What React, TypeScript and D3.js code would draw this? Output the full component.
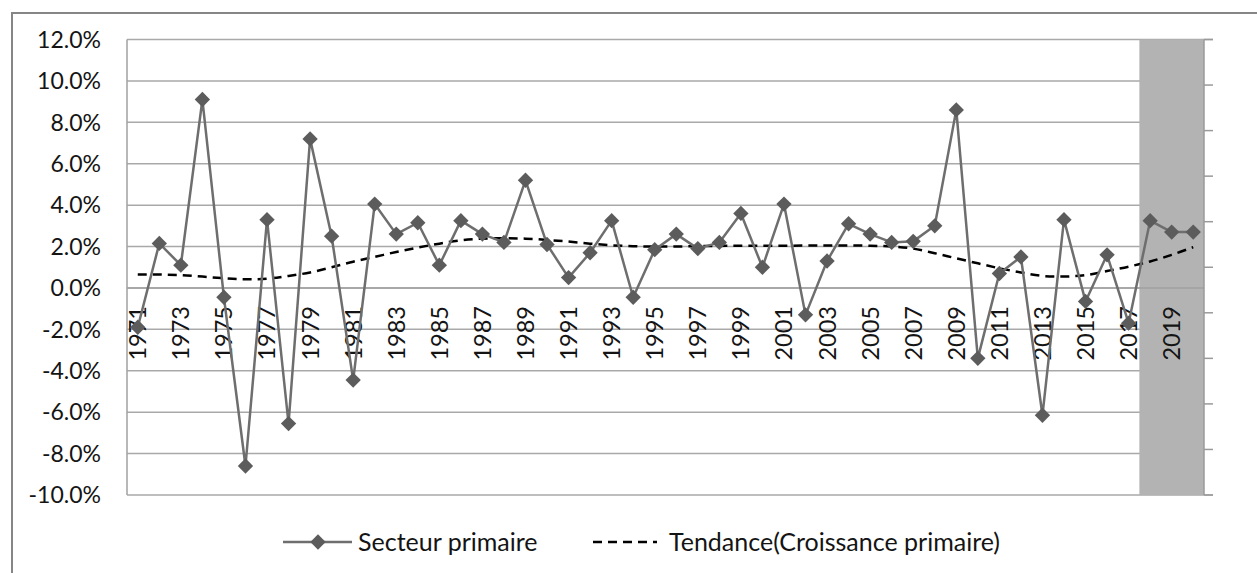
import React, { useEffect, useRef } from "react";
import * as d3 from "d3";

const years: number[] = [
  1971, 1972, 1973, 1974, 1975, 1976, 1977, 1978, 1979, 1980,
  1981, 1982, 1983, 1984, 1985, 1986, 1987, 1988, 1989, 1990,
  1991, 1992, 1993, 1994, 1995, 1996, 1997, 1998, 1999, 2000,
  2001, 2002, 2003, 2004, 2005, 2006, 2007, 2008, 2009, 2010,
  2011, 2012, 2013, 2014, 2015, 2016, 2017, 2018, 2019, 2020,
];

// Secteur primaire growth (%)
const primaire: number[] = [
  -1.9, 2.15, 1.1, 9.1, -0.45, -8.6, 3.3, -6.55, 7.2, 2.5,
  -4.45, 4.05, 2.6, 3.15, 1.1, 3.25, 2.6, 2.2, 5.2, 2.1,
  0.5, 1.7, 3.25, -0.45, 1.85, 2.6, 1.9, 2.2, 3.6, 1.0,
  4.05, -1.3, 1.3, 3.1, 2.6, 2.2, 2.25, 3.0, 8.6, -3.4,
  0.7, 1.5, -6.15, 3.3, -0.65, 1.6, -1.7, 3.25, 2.7, 2.7,
];

// Tendance (Croissance primaire) (%)
const tendance: number[] = [
  0.65, 0.65, 0.62, 0.55, 0.47, 0.42, 0.45, 0.58, 0.75, 1.0,
  1.27, 1.5, 1.74, 1.95, 2.14, 2.3, 2.38, 2.4, 2.38, 2.32,
  2.24, 2.14, 2.06, 2.02, 2.0, 2.0, 2.02, 2.03, 2.04, 2.04,
  2.04, 2.05, 2.05, 2.05, 2.04, 2.0, 1.9, 1.68, 1.43, 1.19,
  0.95, 0.75, 0.58, 0.55, 0.62, 0.82, 1.03, 1.28, 1.6, 1.97,
];

const yTicks: number[] = [-10, -8, -6, -4, -2, 0, 2, 4, 6, 8, 10, 12];
const shadedYears: number[] = [2018, 2019, 2020];
const legendLabels: string[] = ["Secteur primaire", "Tendance(Croissance primaire)"];

const W = 1257;
const H = 573;
const FONT = "Lato, 'Open Sans', sans-serif";
const TXT = "#141414";

export default function App() {
  const ref = useRef<SVGSVGElement | null>(null);

  useEffect(() => {
    const svg = d3.select(ref.current);
    svg.selectAll("*").remove();

    const left = 127, right = 1204, top = 39.5, bottom = 495;
    const x = d3.scaleBand<number>().domain(years).range([left, right]).padding(0);
    const y = d3.scaleLinear().domain([-10, 12]).range([bottom, top]);
    const cx = (yr: number) => (x(yr) as number) + x.bandwidth() / 2;

    svg.append("rect").attr("x", 0).attr("y", 0).attr("width", W).attr("height", H).attr("fill", "#fff");
    // outer chart border
    svg.append("rect").attr("x", 12).attr("y", 13).attr("width", W + 20).attr("height", H + 20)
      .attr("fill", "none").attr("stroke", "#868686").attr("stroke-width", 2);

    // gridlines
    svg.append("g").selectAll("line").data(yTicks).join("line")
      .attr("x1", left).attr("x2", (d) => (d === 12 || d === -10 ? right + 9 : right))
      .attr("y1", (d) => y(d)).attr("y2", (d) => y(d))
      .attr("stroke", "#a9a9a9").attr("stroke-width", 1.5);

    // shaded band
    const sx0 = x(shadedYears[0]) as number;
    const sx1 = (x(shadedYears[shadedYears.length - 1]) as number) + x.bandwidth();
    svg.append("rect").attr("x", sx0).attr("y", top).attr("width", sx1 - sx0).attr("height", bottom - top)
      .attr("fill", "#b3b3b3");

    // category axis line at 0
    svg.append("line").attr("x1", left).attr("x2", right).attr("y1", y(0)).attr("y2", y(0))
      .attr("stroke", "#a0a0a0").attr("stroke-width", 1.5);

    // left axis line
    svg.append("line").attr("x1", left).attr("x2", left).attr("y1", top).attr("y2", bottom)
      .attr("stroke", "#a0a0a0").attr("stroke-width", 1.5);

    // secondary axis (right) with ticks
    svg.append("line").attr("x1", right).attr("x2", right).attr("y1", top).attr("y2", bottom)
      .attr("stroke", "#9a9a9a").attr("stroke-width", 1.5);
    const y2 = d3.scaleLinear().domain([0, 10]).range([bottom, top]);
    svg.append("g").selectAll("line").data(d3.range(0, 11)).join("line")
      .attr("x1", right).attr("x2", right + 9)
      .attr("y1", (d) => y2(d)).attr("y2", (d) => y2(d))
      .attr("stroke", "#9a9a9a").attr("stroke-width", 1.5);

    // y labels
    svg.append("g").selectAll("text").data(yTicks).join("text")
      .attr("x", 101).attr("y", (d) => y(d)).attr("dy", "0.36em")
      .attr("text-anchor", "end").attr("font-family", FONT).attr("font-size", 23).attr("fill", TXT)
      .text((d) => `${d.toFixed(1)}%`);

    // x labels (every other year)
    svg.append("g").selectAll("text").data(years.filter((_, i) => i % 2 === 0)).join("text")
      .attr("transform", (d) => `translate(${cx(d)},306) rotate(-90)`)
      .attr("dy", "0.36em").attr("text-anchor", "end")
      .attr("font-family", FONT).attr("font-size", 23.5).attr("fill", TXT)
      .text((d) => String(d));

    // trend line
    const trendLine = d3.line<number>().x((_, i) => cx(years[i])).y((d) => y(d)).curve(d3.curveCatmullRom);
    svg.append("path").attr("d", trendLine(tendance)).attr("fill", "none")
      .attr("stroke", "#000").attr("stroke-width", 2.5).attr("stroke-dasharray", "9,6");

    // main series
    const mainLine = d3.line<number>().x((_, i) => cx(years[i])).y((d) => y(d));
    svg.append("path").attr("d", mainLine(primaire)).attr("fill", "none")
      .attr("stroke", "#6e6e6e").attr("stroke-width", 2.5).attr("stroke-linejoin", "round");
    const diamond = d3.symbol().type(d3.symbolDiamond2).size(150);
    svg.append("g").selectAll("path").data(primaire).join("path")
      .attr("transform", (d, i) => `translate(${cx(years[i])},${y(d)})`)
      .attr("d", diamond()).attr("fill", "#5c5c5c");

    // legend
    const ly = 542;
    const lg = svg.append("g");
    lg.append("line").attr("x1", 283).attr("x2", 352).attr("y1", ly).attr("y2", ly)
      .attr("stroke", "#6e6e6e").attr("stroke-width", 2.5);
    lg.append("path").attr("transform", `translate(318,${ly})`).attr("d", diamond()).attr("fill", "#5c5c5c");
    lg.append("text").attr("x", 358).attr("y", ly).attr("dy", "0.36em")
      .attr("font-family", FONT).attr("font-size", 25).attr("fill", TXT).text(legendLabels[0]);
    lg.append("line").attr("x1", 593).attr("x2", 657).attr("y1", ly).attr("y2", ly)
      .attr("stroke", "#000").attr("stroke-width", 2.5).attr("stroke-dasharray", "9,6");
    lg.append("text").attr("x", 669).attr("y", ly).attr("dy", "0.36em")
      .attr("font-family", FONT).attr("font-size", 25).attr("fill", TXT).text(legendLabels[1]);
  }, []);

  return (
    <svg ref={ref} width={W} height={H}
      style={{ position: "absolute", left: 0, top: 0, display: "block" }} />
  );
}
